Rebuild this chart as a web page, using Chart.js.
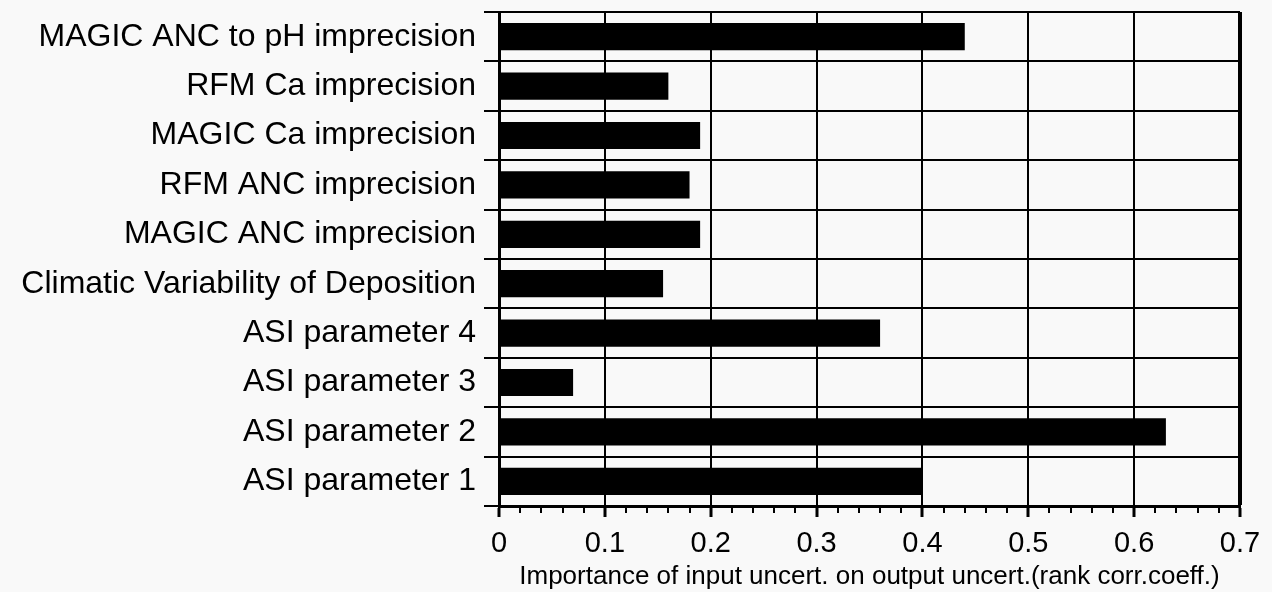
<!DOCTYPE html>
<html>
<head>
<meta charset="utf-8">
<script src="https://cdn.jsdelivr.net/npm/chart.js@4/dist/chart.umd.min.js"></script>
<style>
html,body{margin:0;padding:0;background:#f9f9f9;}
#wrap{width:1272px;height:592px;position:relative;}
</style>
</head>
<body>
<div id="wrap"><canvas id="c" width="1272" height="592"></canvas></div>
<script>
const categories = [
  "MAGIC ANC to pH imprecision",
  "RFM Ca imprecision",
  "MAGIC Ca imprecision",
  "RFM ANC imprecision",
  "MAGIC ANC imprecision",
  "Climatic Variability of Deposition",
  "ASI parameter 4",
  "ASI parameter 3",
  "ASI parameter 2",
  "ASI parameter 1"
];
const importance = [0.44, 0.16, 0.19, 0.18, 0.19, 0.155, 0.36, 0.07, 0.63, 0.40];
const xMin = 0, xMax = 0.7, majorStep = 0.1, minorStep = 0.02;
const xTitle = "Importance of input uncert. on output uncert.(rank corr.coeff.)";
const FONT = '"Liberation Sans", Arial, Helvetica, sans-serif';

const minorTicks = {
  id: 'minorTicks',
  afterDraw(chart) {
    const s = chart.scales.x;
    const ctx = chart.ctx;
    ctx.save();
    ctx.strokeStyle = '#000';
    ctx.lineWidth = 2;
    const n = Math.round((xMax - xMin) / minorStep);
    for (let i = 1; i < n; i++) {
      if (i % 5 === 0) continue;
      const v = xMin + i * minorStep;
      const px = Math.round(s.getPixelForValue(v));
      ctx.beginPath();
      ctx.moveTo(px, s.top);
      ctx.lineTo(px, s.top + 7);
      ctx.stroke();
    }
    ctx.restore();
  }
};

new Chart(document.getElementById('c'), {
  type: 'bar',
  data: {
    labels: categories,
    datasets: [{
      data: importance,
      backgroundColor: '#000',
      borderWidth: 0,
      barPercentage: 0.55,
      categoryPercentage: 1
    }]
  },
  options: {
    indexAxis: 'y',
    responsive: false,
    animation: false,
    layout: { padding: { top: 12, right: 32, left: 8, bottom: 0 } },
    plugins: { legend: { display: false }, tooltip: { enabled: false } },
    scales: {
      x: {
        min: xMin, max: xMax,
        ticks: {
          stepSize: majorStep,
          color: '#000',
          font: { family: FONT, size: 29 },
          padding: 10,
          maxRotation: 0,
          callback: v => (Math.round(v * 10) / 10).toString()
        },
        grid: {
          color: '#000',
          lineWidth: ctx => (ctx.tick && Math.abs(ctx.tick.value - xMax) < 1e-9) ? 4 : 2,
          tickLength: 11,
          tickWidth: 3
        },
        border: { display: true, color: '#000', width: 3 },
        title: {
          display: true,
          text: xTitle,
          color: '#000',
          font: { family: FONT, size: 26 },
          padding: { top: 0, bottom: 0 }
        },
        afterFit(s) { s.height = 86; }
      },
      y: {
        ticks: {
          color: '#000',
          font: { family: FONT, size: 32 },
          padding: 8,
          autoSkip: false
        },
        grid: {
          color: '#000',
          lineWidth: 2,
          tickLength: 15,
          offset: true
        },
        border: { display: true, color: '#000', width: 3 },
        afterFit(s) { s.width = 491; s.paddingTop = 0; s.paddingBottom = 0; }
      }
    }
  },
  plugins: [minorTicks]
});
</script>
</body>
</html>
